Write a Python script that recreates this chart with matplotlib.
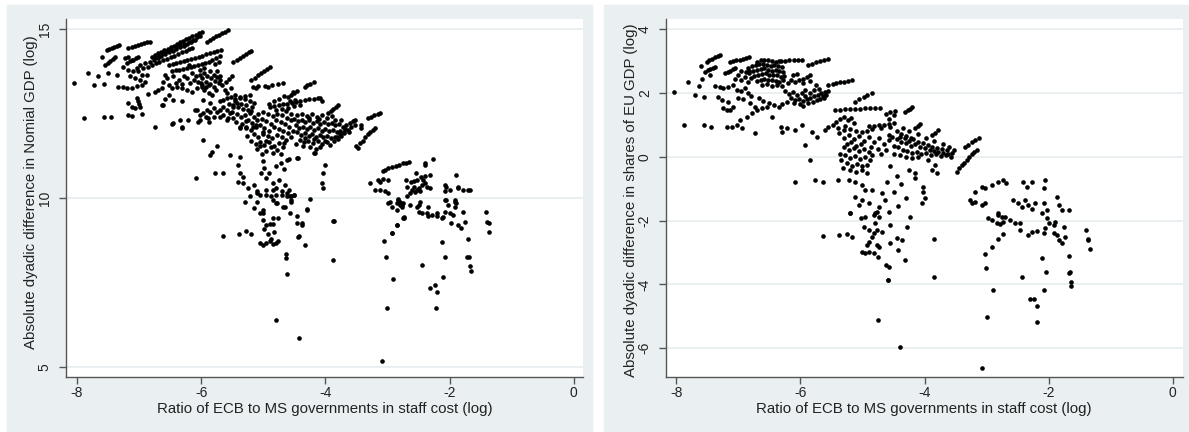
import numpy as np
import matplotlib
matplotlib.use("Agg")
from matplotlib import pyplot as plt
from matplotlib.patches import Rectangle

plt.rcParams['font.family'] = ['Liberation Sans', 'DejaVu Sans']
plt.rcParams['axes.unicode_minus'] = False

# (ratio of ECB to MS staff cost, log ; abs. dyadic difference in nominal GDP, log)
nominal_pts = [
    (-8.04, 13.40), (-7.88, 12.38), (-7.82, 13.70), (-7.72, 13.35), (-7.66, 13.60), (-7.57, 13.37),
    (-7.57, 12.41), (-7.45, 12.41), (-7.60, 14.19), (-7.50, 13.70), (-7.36, 13.65),
    (-7.52, 14.39), (-7.48, 14.42), (-7.44, 14.45), (-7.40, 14.48), (-7.36, 14.51), (-7.32, 14.54),
    (-7.54, 13.94), (-7.50, 14.00), (-7.46, 14.06), (-7.42, 14.12), (-7.38, 14.18),
    (-7.33, 13.30), (-7.25, 13.28), (-7.19, 13.26), (-7.11, 13.25), (-7.03, 13.31), (-6.95, 13.35),
    (-7.22, 14.14), (-7.17, 14.19), (-7.11, 14.09),
    (-7.17, 14.44), (-7.12, 14.47), (-7.07, 14.50), (-7.02, 14.52), (-6.97, 14.55), (-6.92, 14.58),
    (-6.87, 14.61), (-6.82, 14.63),
    (-7.19, 14.00), (-7.14, 14.05), (-7.10, 14.10), (-7.05, 14.15), (-7.01, 14.19),
    (-7.25, 13.89), (-7.17, 13.80), (-7.09, 13.75), (-7.03, 13.84),
    (-7.14, 13.60), (-7.06, 13.55), (-6.98, 13.50), (-6.90, 13.45), (-6.95, 13.65), (-6.87, 13.65),
    (-7.01, 13.75), (-6.93, 13.85), (-6.99, 13.95), (-6.91, 14.00),
    (-7.17, 12.81), (-7.11, 12.71), (-7.06, 12.66), (-7.03, 12.96), (-7.01, 12.88), (-7.00, 12.80),
    (-6.98, 12.71), (-7.17, 12.46), (-7.11, 12.44), (-6.95, 12.48), (-6.74, 12.12),
    (-6.85, 13.08), (-6.74, 13.15), (-6.69, 13.20), (-6.63, 13.25), (-6.63, 12.76),
    (-6.58, 12.92), (-6.52, 13.05), (-6.47, 13.27), (-6.39, 13.30), (-6.31, 13.25), (-6.23, 13.20),
    (-6.15, 13.15), (-6.07, 13.25), (-5.99, 13.30), (-5.88, 13.35),
    (-6.47, 12.19), (-6.34, 12.32), (-6.31, 12.12),
    (-6.10, 12.60), (-6.02, 12.45), (-6.05, 12.25), (-5.92, 12.40), (-5.85, 12.55), (-5.88, 12.25),
    (-6.79, 14.19), (-6.74, 14.24), (-6.69, 14.28), (-6.64, 14.33), (-6.59, 14.37), (-6.54, 14.42),
    (-6.49, 14.47), (-6.44, 14.51), (-6.39, 14.56), (-6.34, 14.61), (-6.29, 14.65), (-6.24, 14.70),
    (-6.19, 14.74), (-6.14, 14.79), (-6.09, 14.84), (-6.04, 14.88), (-5.99, 14.93),
    (-6.82, 14.04), (-6.76, 14.10), (-6.70, 14.15), (-6.64, 14.20), (-6.58, 14.25), (-6.52, 14.31),
    (-6.46, 14.36), (-6.40, 14.41), (-6.34, 14.46), (-6.28, 14.51), (-6.22, 14.56), (-6.16, 14.62),
    (-6.10, 14.67),
    (-6.85, 13.89), (-6.79, 13.94), (-6.73, 13.99), (-6.67, 14.03), (-6.61, 14.08), (-6.55, 14.13),
    (-6.49, 14.18), (-6.43, 14.22), (-6.37, 14.27), (-6.31, 14.31), (-6.25, 14.36), (-6.19, 14.40),
    (-6.14, 14.44),
    (-6.75, 14.17), (-6.68, 14.22), (-6.61, 14.28), (-6.55, 14.34), (-6.48, 14.40), (-6.41, 14.46),
    (-6.34, 14.52), (-6.27, 14.57), (-6.20, 14.63), (-6.13, 14.69), (-6.06, 14.76), (-6.02, 14.80),
    (-6.52, 13.94), (-6.46, 13.97), (-6.40, 14.00), (-6.34, 14.03), (-6.28, 14.06), (-6.22, 14.09),
    (-6.16, 14.12), (-6.10, 14.15), (-6.04, 14.19), (-5.98, 14.22), (-5.92, 14.25), (-5.86, 14.28),
    (-6.47, 13.75), (-6.41, 13.78), (-6.35, 13.80), (-6.29, 13.83), (-6.23, 13.86), (-6.17, 13.89),
    (-6.11, 13.92), (-6.05, 13.95), (-5.99, 13.98), (-5.93, 14.01), (-5.87, 14.04),
    (-5.80, 14.32), (-5.74, 14.35), (-5.68, 14.38), (-5.82, 14.10), (-5.76, 14.15), (-5.70, 14.20),
    (-5.78, 13.98), (-5.72, 14.02),
    (-6.02, 13.80), (-5.96, 13.70), (-5.90, 13.62), (-5.84, 13.55), (-5.78, 13.48), (-5.72, 13.42),
    (-5.98, 13.55), (-5.92, 13.45), (-5.86, 13.38), (-5.80, 13.30), (-6.00, 13.40), (-5.95, 13.20),
    (-5.88, 13.10), (-5.82, 13.05), (-5.76, 13.20), (-5.70, 13.60), (-5.75, 13.75), (-5.95, 13.85),
    (-6.20, 13.95), (-6.14, 13.70), (-6.08, 13.62), (-6.02, 13.65), (-6.12, 13.50), (-6.05, 13.45),
    (-5.98, 13.35), (-5.92, 13.30), (-6.18, 13.40), (-5.85, 13.75), (-5.80, 13.65), (-5.75, 13.58),
    (-5.70, 13.50), (-5.66, 13.35), (-5.60, 13.45), (-5.55, 13.52), (-5.50, 13.60), (-5.62, 13.20),
    (-5.58, 13.10), (-5.52, 13.25),
    (-6.55, 13.55), (-6.45, 13.62), (-6.35, 13.50), (-6.28, 13.60), (-6.40, 13.40), (-6.30, 13.38),
    (-6.22, 13.55), (-6.52, 13.35), (-6.62, 13.45), (-6.58, 13.65),
    (-5.91, 14.63), (-5.86, 14.68), (-5.81, 14.73), (-5.76, 14.79), (-5.71, 14.84), (-5.66, 14.89),
    (-5.61, 14.93), (-5.56, 14.97),
    (-5.48, 14.04), (-5.43, 14.10), (-5.38, 14.15), (-5.33, 14.21), (-5.28, 14.26), (-5.23, 14.31),
    (-5.19, 14.36),
    (-5.19, 13.50), (-5.14, 13.56), (-5.09, 13.63), (-5.04, 13.70), (-4.99, 13.76), (-4.94, 13.82),
    (-4.89, 13.89),
    (-5.16, 13.30), (-5.08, 13.33), (-4.97, 13.32), (-4.86, 13.36), (-4.76, 13.38), (-4.68, 13.40),
    (-5.11, 13.25), (-4.92, 13.28),
    (-4.33, 13.30), (-4.29, 13.34), (-4.24, 13.38), (-4.19, 13.43),
    (-4.60, 13.00), (-4.55, 13.06), (-4.50, 13.11), (-4.46, 13.17), (-4.57, 12.86),
    (-4.89, 12.71), (-4.82, 12.73), (-4.75, 12.76), (-4.68, 12.78), (-4.61, 12.80), (-4.54, 12.83),
    (-4.47, 12.85), (-4.40, 12.87), (-4.33, 12.90), (-4.26, 12.92), (-4.19, 12.94), (-4.12, 12.97),
    (-4.80, 12.62), (-4.70, 12.65), (-4.60, 12.68), (-4.50, 12.72), (-4.40, 12.75),
    (-4.90, 12.78), (-4.82, 12.86), (-4.74, 12.94), (-4.66, 13.02),
    (-5.46, 12.93), (-5.38, 12.97), (-5.30, 13.02), (-5.22, 13.06),
    (-3.95, 12.51), (-3.91, 12.57), (-3.87, 12.63), (-3.83, 12.70), (-3.79, 12.76),
    (-4.52, 13.15), (-4.49, 12.91), (-4.09, 12.96), (-4.06, 12.86),
    (-3.60, 12.22), (-3.56, 12.27), (-3.52, 12.32), (-3.42, 12.17), (-3.42, 12.07),
    (-3.31, 12.37), (-3.26, 12.41), (-3.21, 12.45), (-3.16, 12.48), (-3.12, 12.51),
    (-3.50, 11.53), (-3.44, 11.63), (-3.36, 11.82), (-3.28, 11.97), (-3.20, 12.07),
    (-3.47, 11.48), (-3.40, 11.70), (-3.32, 11.90), (-3.24, 12.02),
    (-3.82, 11.82), (-3.76, 11.89), (-3.70, 11.96), (-3.64, 12.03), (-3.58, 12.10), (-3.52, 12.17),
    (-5.59, 12.95), (-5.52, 13.00), (-5.45, 13.05), (-5.38, 12.98), (-5.30, 12.92), (-5.22, 12.88),
    (-5.15, 12.82), (-5.55, 12.80), (-5.48, 12.75), (-5.40, 12.70), (-5.32, 12.65), (-5.25, 12.60),
    (-5.18, 12.70), (-5.45, 12.88), (-5.35, 12.80), (-5.28, 12.75), (-5.20, 12.58),
    (-5.97, 12.91), (-5.86, 12.81), (-5.91, 12.61), (-5.70, 12.86), (-5.75, 12.56), (-5.64, 12.46),
    (-5.56, 12.36), (-5.27, 12.27), (-5.11, 12.17), (-5.00, 11.97), (-5.38, 12.07),
    (-5.80, 12.41), (-5.70, 12.41), (-5.59, 12.32), (-5.48, 12.37), (-5.38, 12.12), (-5.27, 12.07),
    (-5.16, 12.12), (-6.45, 12.22), (-6.31, 12.07), (-6.21, 12.32),
    (-6.61, 12.76), (-6.45, 12.91), (-6.31, 12.86),
    (-6.07, 12.61), (-5.97, 12.51), (-6.02, 12.32), (-5.89, 12.37), (-5.80, 12.66), (-5.70, 12.61),
    (-5.54, 12.51), (-5.48, 12.71), (-5.43, 12.81), (-5.64, 12.91),
    (-5.65, 12.70), (-5.58, 12.62), (-5.50, 12.55), (-5.42, 12.48), (-5.36, 12.40), (-5.44, 12.25),
    (-5.34, 12.20),
    (-6.08, 10.61), (-5.78, 10.74), (-5.64, 10.74), (-5.97, 11.73), (-5.86, 11.28), (-5.83, 11.36),
    (-5.75, 11.53), (-5.54, 11.28),
    (-5.38, 11.23), (-5.40, 10.98), (-5.38, 10.74), (-5.32, 10.64), (-5.40, 10.49), (-5.32, 10.44),
    (-5.24, 10.30), (-5.21, 10.05),
    (-5.30, 12.45), (-5.22, 12.52), (-5.15, 12.40), (-5.08, 12.48), (-5.00, 12.55), (-4.92, 12.50),
    (-4.85, 12.42), (-4.78, 12.50), (-4.70, 12.45), (-4.62, 12.38), (-4.55, 12.30), (-5.25, 12.30),
    (-5.18, 12.22), (-5.10, 12.30), (-5.02, 12.35), (-4.95, 12.28), (-4.88, 12.20), (-4.80, 12.30),
    (-4.72, 12.25), (-4.65, 12.18), (-4.58, 12.10), (-5.28, 12.10), (-5.20, 12.02), (-5.12, 12.10),
    (-5.05, 12.15), (-4.98, 12.08), (-4.90, 12.00), (-4.82, 12.10), (-4.75, 12.05), (-4.68, 11.98),
    (-4.60, 11.92), (-5.15, 11.90), (-5.08, 11.82), (-5.00, 11.90), (-4.93, 11.85), (-4.86, 11.78),
    (-4.78, 11.88), (-4.70, 11.80), (-4.63, 11.72), (-5.05, 11.65), (-4.98, 11.58), (-4.90, 11.65),
    (-4.82, 11.55), (-4.75, 11.62), (-4.68, 11.50), (-5.10, 11.45), (-4.95, 11.40), (-4.85, 11.35),
    (-4.72, 11.30),
    (-5.26, 11.85), (-5.20, 11.70), (-5.12, 11.60), (-4.96, 11.70), (-4.88, 11.50), (-4.78, 11.42),
    (-4.66, 11.62), (-4.56, 11.80), (-4.52, 12.00), (-4.56, 12.50), (-4.64, 12.58),
    (-5.05, 11.55), (-5.02, 11.30), (-5.00, 11.10), (-4.98, 10.90), (-5.04, 10.75), (-4.95, 10.60),
    (-4.90, 10.75), (-4.85, 10.45), (-4.80, 10.30), (-4.75, 10.55), (-4.70, 10.20), (-4.65, 10.40),
    (-4.62, 10.05), (-4.58, 10.25), (-4.55, 9.90), (-4.50, 10.10), (-4.88, 10.05), (-4.78, 9.85),
    (-4.68, 9.75), (-4.95, 10.25), (-5.10, 10.15), (-5.15, 10.40), (-4.72, 11.05), (-4.80, 10.95),
    (-4.66, 10.85), (-4.58, 11.15), (-4.62, 11.13), (-4.44, 11.18),
    (-4.25, 9.97), (-4.30, 9.67), (-3.87, 9.33), (-4.38, 9.26), (-4.46, 9.46),
    (-5.65, 8.88), (-5.39, 8.94), (-5.27, 9.04), (-5.19, 8.94), (-5.05, 8.67), (-5.00, 8.62),
    (-4.95, 8.67), (-4.89, 8.72), (-4.84, 8.65), (-4.79, 8.67), (-4.76, 8.72), (-5.00, 9.35),
    (-4.95, 9.20), (-4.89, 9.25), (-4.84, 9.40), (-4.84, 9.25), (-4.76, 9.40), (-4.98, 9.10),
    (-4.93, 8.95), (-4.87, 8.80), (-4.82, 9.00), (-5.06, 9.55), (-5.01, 9.65), (-4.46, 9.26),
    (-4.44, 8.86), (-4.64, 8.35), (-4.64, 8.22), (-4.61, 7.76), (-4.79, 6.40), (-4.42, 5.86),
    (-5.30, 9.90), (-5.10, 10.20), (-5.05, 10.10), (-4.95, 10.10), (-4.85, 10.25), (-4.80, 10.10),
    (-4.70, 10.10), (-4.62, 10.15), (-4.55, 9.95), (-4.50, 10.10), (-5.15, 9.70), (-5.10, 9.90),
    (-5.00, 9.55), (-4.85, 9.95), (-4.80, 9.85), (-4.65, 9.75), (-4.55, 10.05),
    (-4.38, 9.21), (-4.42, 8.88), (-4.33, 8.62), (-3.86, 9.33), (-3.87, 8.16), (-3.09, 5.17),
    (-4.45, 11.18), (-4.19, 11.33), (-4.16, 11.33), (-4.01, 10.98), (-4.03, 10.74), (-4.06, 10.44),
    (-4.03, 10.30), (-4.30, 9.65), (-4.57, 10.05), (-4.57, 9.56),
    (-4.50, 12.35), (-4.44, 12.28), (-4.38, 12.32), (-4.32, 12.25), (-4.26, 12.30), (-4.20, 12.22),
    (-4.14, 12.28), (-4.08, 12.20), (-4.02, 12.25), (-3.96, 12.18), (-3.90, 12.22), (-3.84, 12.15),
    (-3.78, 12.20), (-3.72, 12.12), (-3.66, 12.16),
    (-4.48, 12.15), (-4.42, 12.08), (-4.36, 12.12), (-4.30, 12.05), (-4.24, 12.10), (-4.18, 12.02),
    (-4.12, 12.08), (-4.06, 12.00), (-4.00, 12.05), (-3.94, 11.98), (-3.88, 12.02), (-3.82, 11.95),
    (-3.76, 12.00), (-3.70, 11.92),
    (-4.45, 11.95), (-4.39, 11.88), (-4.33, 11.92), (-4.27, 11.85), (-4.21, 11.90), (-4.15, 11.82),
    (-4.09, 11.88), (-4.03, 11.80), (-3.97, 11.85), (-3.91, 11.78), (-3.85, 11.82), (-3.79, 11.75),
    (-4.40, 11.72), (-4.34, 11.65), (-4.28, 11.70), (-4.20, 11.62), (-4.12, 11.68), (-4.05, 11.60),
    (-3.98, 11.65), (-3.92, 11.58), (-4.36, 11.55), (-4.25, 11.50), (-4.15, 11.45), (-4.08, 11.52),
    (-4.46, 12.45), (-4.38, 12.50), (-4.30, 12.42), (-4.22, 12.48), (-4.14, 12.40), (-4.06, 12.45),
    (-3.98, 12.38), (-3.90, 12.42),
    (-4.47, 11.60), (-4.32, 11.78), (-4.18, 11.75), (-4.00, 11.70), (-3.86, 11.68), (-3.74, 11.85),
    (-3.68, 12.05), (-3.62, 11.95), (-4.10, 12.35), (-4.26, 12.38), (-3.85, 12.30), (-3.75, 12.30),
    (-3.28, 10.44), (-3.20, 10.24), (-3.12, 10.24), (-3.04, 10.20), (-2.99, 10.15), (-3.15, 10.54),
    (-3.07, 10.56), (-2.99, 10.54), (-3.07, 10.79), (-3.04, 10.84),
    (-2.99, 10.89), (-2.93, 10.92), (-2.87, 10.96), (-2.81, 10.99), (-2.75, 11.03), (-2.70, 11.05),
    (-2.66, 11.08), (-2.40, 10.98), (-2.40, 11.03), (-2.26, 11.15),
    (-2.93, 9.75), (-2.85, 9.65), (-2.77, 9.80), (-2.69, 10.34), (-2.69, 10.05), (-2.83, 9.99),
    (-2.74, 9.41), (-2.85, 9.21), (-2.93, 8.96),
    (-3.12, 10.49), (-2.99, 9.85), (-2.85, 9.85), (-2.80, 9.90), (-2.77, 9.75), (-2.74, 9.44),
    (-3.06, 8.72), (-3.02, 8.25), (-2.91, 7.60), (-3.00, 6.75),
    (-2.61, 10.24), (-2.53, 10.24), (-2.58, 10.34), (-2.50, 10.29), (-2.45, 10.39), (-2.40, 10.44),
    (-2.37, 10.34), (-2.32, 10.29), (-2.42, 10.54),
    (-2.80, 9.80), (-2.64, 9.80), (-2.53, 9.75), (-2.48, 9.90),
    (-2.45, 9.56), (-2.34, 9.46), (-2.29, 9.51), (-2.21, 9.46), (-2.13, 9.41),
    (-2.07, 10.39), (-2.07, 10.20), (-2.05, 9.95), (-2.02, 9.80), (-2.07, 9.60), (-1.99, 9.56),
    (-1.94, 9.51), (-1.91, 9.90), (-1.91, 9.75),
    (-1.86, 10.34), (-1.70, 10.24),
    (-1.97, 9.26), (-1.86, 9.21), (-1.81, 9.11), (-1.75, 9.31), (-1.78, 9.60),
    (-2.13, 8.70), (-2.07, 8.25), (-2.45, 8.03), (-2.10, 7.66), (-2.32, 7.33), (-2.24, 7.43),
    (-2.21, 7.24), (-1.70, 8.79), (-1.72, 8.25), (-1.69, 8.26), (-1.67, 7.98), (-1.66, 7.86),
    (-2.22, 6.74), (-1.41, 9.60), (-1.39, 9.31), (-1.36, 9.26), (-1.36, 9.01),
    (-2.93, 8.98), (-2.84, 9.22), (-2.75, 9.41),
    (-2.05, 10.34), (-1.99, 10.25), (-1.89, 10.69), (-1.86, 10.30), (-1.78, 10.25), (-1.67, 10.25),
    (-2.07, 9.95), (-1.91, 9.95), (-1.89, 9.85),
    (-2.96, 9.90), (-2.83, 9.95), (-2.75, 9.85), (-2.50, 9.80), (-2.50, 9.60), (-2.37, 9.55),
    (-2.34, 9.75), (-2.21, 9.55), (-2.10, 9.45),
    (-2.70, 10.55), (-2.62, 10.48), (-2.57, 10.50), (-2.52, 10.55), (-2.46, 10.62), (-2.40, 10.66),
    (-2.32, 10.70), (-2.54, 10.74), (-2.56, 10.17), (-2.64, 10.15), (-2.48, 10.20),
]

# (ratio of ECB to MS staff cost, log ; abs. dyadic difference in shares of EU GDP, log)
share_pts = [
    (-8.03, 2.04), (-7.87, 1.00), (-7.81, 2.36), (-7.70, 1.94), (-7.56, 1.89), (-7.64, 2.22),
    (-7.56, 1.00), (-7.44, 0.95), (-7.60, 2.85), (-7.58, 2.44),
    (-7.51, 2.98), (-7.47, 3.03), (-7.42, 3.08), (-7.37, 3.12), (-7.33, 3.16), (-7.29, 3.19),
    (-7.53, 2.67), (-7.49, 2.71), (-7.45, 2.75), (-7.41, 2.79), (-7.37, 2.83),
    (-7.45, 2.57), (-7.37, 2.22), (-7.29, 2.20),
    (-7.32, 1.89), (-7.26, 1.78), (-7.24, 1.52), (-7.18, 1.47), (-7.13, 1.47), (-7.08, 1.57),
    (-7.16, 1.73), (-7.18, 0.95), (-7.10, 0.95), (-7.02, 1.00), (-6.97, 1.16), (-6.94, 0.90),
    (-7.13, 2.98), (-7.08, 3.00), (-7.03, 3.03), (-6.98, 3.05), (-6.93, 3.08), (-6.88, 3.10),
    (-6.83, 3.13),
    (-7.21, 2.62), (-7.17, 2.66), (-7.13, 2.70), (-7.09, 2.74), (-7.05, 2.78),
    (-7.24, 2.15), (-7.16, 2.20), (-7.08, 2.25),
    (-7.05, 2.45), (-7.00, 2.55), (-6.95, 2.40), (-6.90, 2.50), (-6.85, 2.35), (-7.02, 2.10),
    (-6.96, 2.05), (-6.90, 2.15), (-6.84, 2.00), (-6.80, 1.90), (-7.00, 1.85), (-6.92, 1.80),
    (-6.88, 2.65), (-6.82, 2.70), (-6.95, 2.70),
    (-6.73, 0.74), (-6.86, 1.26), (-6.78, 1.37), (-6.70, 1.47), (-6.62, 1.52), (-6.54, 1.57),
    (-6.81, 1.68), (-6.67, 1.84), (-6.73, 1.57),
    (-6.70, 2.98), (-6.64, 3.02), (-6.58, 3.05), (-6.52, 3.03), (-6.46, 3.00), (-6.40, 2.98),
    (-6.34, 3.01),
    (-6.85, 2.80), (-6.78, 2.85), (-6.72, 2.88), (-6.66, 2.90), (-6.60, 2.92), (-6.54, 2.88),
    (-6.48, 2.85), (-6.42, 2.88), (-6.36, 2.85), (-6.30, 2.82),
    (-6.82, 2.62), (-6.76, 2.68), (-6.70, 2.72), (-6.64, 2.75), (-6.58, 2.78), (-6.52, 2.72),
    (-6.46, 2.70), (-6.40, 2.72), (-6.34, 2.68), (-6.28, 2.65),
    (-6.80, 2.48), (-6.74, 2.52), (-6.68, 2.58), (-6.62, 2.60), (-6.56, 2.62), (-6.50, 2.58),
    (-6.44, 2.55), (-6.38, 2.55), (-6.32, 2.50), (-6.26, 2.52),
    (-6.70, 2.38), (-6.64, 2.42), (-6.58, 2.45), (-6.52, 2.42), (-6.46, 2.40), (-6.40, 2.38),
    (-6.34, 2.36), (-6.28, 2.40),
    (-6.62, 2.25), (-6.54, 2.28), (-6.46, 2.22), (-6.38, 2.25), (-6.30, 2.22),
    (-6.32, 3.00), (-6.25, 3.01), (-6.18, 3.02), (-6.11, 3.03), (-6.04, 3.04), (-5.97, 3.05),
    (-5.87, 2.88), (-5.81, 2.92), (-5.75, 2.96), (-5.69, 3.00), (-5.62, 3.04), (-5.55, 3.08),
    (-6.46, 1.26), (-6.32, 0.95), (-6.30, 0.79), (-6.22, 0.90),
    (-6.08, -0.78), (-5.76, -0.73), (-5.63, -0.78), (-5.92, 0.37), (-5.84, -0.10),
    (-6.25, 2.05), (-6.18, 1.98), (-6.12, 2.02), (-6.05, 1.95), (-5.98, 2.00), (-5.92, 1.92),
    (-6.15, 1.85), (-6.08, 1.78), (-6.02, 1.82), (-5.96, 1.75), (-5.90, 1.80), (-5.84, 1.85),
    (-5.78, 1.90), (-5.72, 1.95), (-5.66, 2.00), (-5.60, 2.02), (-5.55, 2.05), (-5.88, 1.70),
    (-5.80, 1.72), (-5.74, 1.78), (-5.68, 1.82), (-5.62, 1.85), (-6.00, 1.65), (-5.95, 1.58),
    (-6.30, 1.65), (-6.22, 1.72), (-6.10, 1.68), (-5.92, 2.10), (-5.85, 2.00), (-5.78, 2.08),
    (-5.70, 2.12), (-5.64, 1.92), (-5.58, 1.95), (-6.20, 2.30), (-6.15, 2.42), (-5.95, 2.30),
    (-5.85, 2.38), (-5.75, 2.25),
    (-6.08, 2.33), (-6.02, 2.40), (-5.96, 2.45), (-5.90, 2.50), (-5.84, 2.55), (-6.12, 2.55),
    (-6.05, 2.60),
    (-5.55, 2.25), (-5.48, 2.28), (-5.42, 2.31), (-5.36, 2.34), (-5.29, 2.36), (-5.23, 2.39),
    (-5.17, 2.41),
    (-5.44, 1.47), (-5.36, 1.48), (-5.28, 1.50), (-5.20, 1.50), (-5.12, 1.51), (-5.04, 1.50),
    (-4.96, 1.52), (-4.88, 1.52), (-4.80, 1.53), (-4.72, 1.53),
    (-5.12, 1.73), (-5.05, 1.80), (-4.98, 1.86), (-4.92, 1.93), (-4.85, 1.99),
    (-5.48, 1.00), (-5.42, 1.10), (-5.36, 1.20), (-5.30, 1.25), (-5.24, 1.15), (-5.18, 1.22),
    (-5.14, 1.05), (-5.28, 0.98), (-5.40, 0.90),
    (-5.38, 0.75), (-5.30, 0.60), (-5.22, 0.70), (-5.14, 0.55), (-5.06, 0.65), (-4.98, 0.50),
    (-4.90, 0.62), (-4.82, 0.45), (-4.74, 0.58), (-4.66, 0.40), (-4.58, 0.52), (-4.50, 0.35),
    (-5.25, 0.40), (-5.10, 0.35),
    (-5.30, 0.85), (-5.20, 0.88), (-5.10, 0.80), (-5.00, 0.78), (-4.92, 0.80), (-5.18, 0.45),
    (-5.02, 0.40), (-4.86, 0.30), (-4.75, 0.25), (-4.62, 0.20), (-4.70, 0.10), (-5.36, 0.10),
    (-5.34, -0.10), (-4.85, 0.05),
    (-4.90, 0.97), (-4.82, 0.98), (-4.74, 1.00), (-4.66, 1.01), (-4.58, 1.03), (-4.50, 1.05),
    (-4.85, 0.88), (-4.70, 0.90), (-4.55, 0.92),
    (-5.30, 0.30), (-5.22, 0.20), (-5.14, 0.28), (-5.06, 0.18), (-4.98, 0.25), (-4.90, 0.15),
    (-5.28, 0.05), (-5.20, -0.05), (-5.12, 0.02), (-5.04, -0.08), (-4.96, 0.00), (-4.88, -0.10),
    (-5.25, -0.20), (-5.17, -0.28), (-5.09, -0.22), (-5.01, -0.30), (-4.93, -0.25), (-5.20, -0.42),
    (-5.10, -0.48), (-5.00, -0.40), (-4.92, -0.50), (-5.32, -0.35),
    (-5.39, -0.73), (-5.22, -0.73), (-5.12, -0.78), (-5.01, -0.88), (-4.96, -1.04),
    (-5.12, -1.25), (-5.01, -1.35), (-4.90, -1.46), (-4.74, -1.56), (-4.63, -1.35), (-4.85, -1.04),
    (-4.69, -1.14), (-5.20, -1.77), (-5.06, -1.51), (-4.80, -1.77),
    (-5.81, 0.79), (-5.73, 0.63), (-5.60, 0.84), (-5.55, 0.95), (-5.97, 0.99), (-6.08, 0.84),
    (-6.60, 1.75), (-6.50, 1.70), (-6.42, 1.62), (-6.35, 1.55),
    (-4.31, 1.42), (-4.27, 1.46), (-4.23, 1.51), (-4.20, 1.55),
    (-4.62, 1.35), (-4.56, 1.40), (-4.50, 1.30), (-4.58, 1.20), (-4.48, 1.45),
    (-4.15, 0.90), (-4.11, 0.96), (-4.07, 1.03), (-3.88, 0.69), (-3.83, 0.76), (-3.78, 0.84),
    (-3.35, 0.32), (-3.30, 0.38), (-3.24, 0.45), (-3.18, 0.52), (-3.13, 0.58),
    (-3.48, -0.46), (-3.44, -0.36), (-3.40, -0.27), (-3.36, -0.18), (-3.32, -0.09), (-3.28, 0.00),
    (-3.24, 0.08), (-3.20, 0.15), (-3.16, 0.22),
    (-4.45, 0.80), (-4.38, 0.72), (-4.30, 0.65), (-4.22, 0.58), (-4.45, 0.55), (-4.38, 0.48),
    (-4.30, 0.42), (-4.22, 0.35), (-4.15, 0.40), (-4.08, 0.32), (-4.00, 0.28), (-3.92, 0.22),
    (-3.85, 0.18), (-3.78, 0.15), (-3.70, 0.12), (-3.62, 0.10), (-3.55, 0.12),
    (-4.42, 0.30), (-4.35, 0.22), (-4.28, 0.18), (-4.20, 0.12), (-4.12, 0.15), (-4.05, 0.08),
    (-3.98, 0.12), (-3.90, 0.05), (-3.82, 0.08), (-3.74, 0.02), (-3.66, 0.05), (-3.58, 0.00),
    (-4.40, 0.62), (-4.32, 0.58), (-4.25, 0.50), (-4.18, 0.55), (-4.10, 0.48), (-4.02, 0.42),
    (-3.95, 0.38), (-3.88, 0.32), (-3.80, 0.28), (-3.72, 0.25), (-3.64, 0.20),
    (-4.58, 0.70), (-4.52, 0.62), (-4.35, 0.90), (-4.25, 0.80), (-4.10, 0.72), (-3.98, 0.60),
    (-3.85, 0.50), (-3.70, 0.40), (-3.60, 0.30), (-3.52, 0.20),
    (-4.50, 0.10), (-4.40, 0.05), (-4.30, 0.00), (-4.20, -0.05), (-4.10, -0.02),
    (-3.94, -0.10), (-3.83, -0.25), (-3.80, -0.52), (-3.88, -0.41), (-4.15, -0.52), (-4.15, -0.67),
    (-4.02, -0.93), (-4.02, -1.09), (-3.99, -1.30), (-4.04, -1.46),
    (-4.45, -0.60), (-4.38, -0.85), (-4.50, -1.10), (-4.30, -1.30), (-4.42, -1.55), (-4.25, -0.40),
    (-4.55, -0.30), (-4.60, -0.80),
    (-3.27, -1.35), (-3.24, -1.46), (-3.19, -1.40), (-3.08, -1.51), (-3.02, -1.46), (-3.19, -1.09),
    (-3.08, -0.93), (-3.02, -0.99), (-2.92, -0.88), (-2.81, -0.78), (-2.73, -0.72), (-2.68, -0.83),
    (-2.41, -0.78), (-2.35, -0.93), (-2.27, -0.78), (-2.06, -0.73), (-2.08, -0.99),
    (-2.57, -1.35), (-2.49, -1.46), (-2.43, -1.56), (-2.38, -1.35), (-2.33, -1.51), (-2.27, -1.62),
    (-2.22, -1.46),
    (-1.87, -1.25), (-1.84, -1.51), (-1.79, -1.67), (-1.68, -1.67),
    (-2.08, -1.46), (-2.03, -1.67), (-2.11, -1.77), (-2.81, -1.77), (-2.70, -1.87),
    (-4.55, -2.13), (-4.45, -2.55), (-4.37, -2.61), (-4.29, -2.19), (-4.23, -1.87), (-4.42, -2.92),
    (-4.31, -3.23), (-4.58, -3.44), (-4.59, -3.86),
    (-3.84, -2.58), (-3.85, -3.75), (-4.39, -5.95), (-3.08, -6.61),
    (-3.03, -3.04), (-3.01, -3.49), (-3.00, -5.03), (-2.89, -4.17),
    (-2.92, -2.81), (-2.81, -2.58), (-2.74, -2.42), (-2.84, -2.08), (-2.78, -2.10), (-2.73, -2.03),
    (-2.62, -1.98), (-2.54, -2.06), (-2.46, -2.08), (-2.46, -2.29), (-2.97, -1.93), (-2.92, -1.98),
    (-2.81, -1.82), (-2.76, -1.87),
    (-2.43, -3.76), (-2.30, -4.47), (-2.23, -4.44), (-2.19, -4.66), (-2.19, -5.17), (-2.10, -3.18),
    (-2.04, -3.60), (-2.07, -4.17),
    (-2.33, -2.45), (-2.27, -2.34), (-2.19, -2.31), (-2.08, -2.40), (-2.06, -2.24), (-2.03, -1.93),
    (-2.00, -2.08), (-1.92, -2.14), (-1.92, -2.40), (-1.87, -2.45), (-1.84, -2.61), (-1.79, -2.71),
    (-1.74, -2.50), (-1.76, -2.19), (-1.90, -2.03),
    (-1.67, -3.11), (-1.68, -3.65), (-1.66, -3.60), (-1.64, -3.91), (-1.64, -4.05),
    (-1.40, -2.29), (-1.36, -2.61), (-1.33, -2.90), (-1.37, -2.58),
    (-5.64, -2.48), (-5.37, -2.45), (-5.25, -2.42), (-5.17, -2.50),
    (-5.20, -1.77), (-5.02, -1.93), (-4.96, -1.87), (-4.82, -1.82), (-4.77, -1.72), (-4.74, -1.87),
    (-4.58, -1.72),
    (-4.98, -2.19), (-4.90, -2.29), (-4.82, -2.40), (-4.77, -2.29), (-4.69, -2.34), (-4.80, -2.08),
    (-4.85, -2.50), (-4.90, -2.66), (-4.93, -2.76), (-5.01, -2.97), (-4.96, -3.02), (-4.90, -2.97),
    (-4.82, -3.02), (-4.77, -2.76), (-4.74, -2.81),
    (-4.75, -3.13), (-4.62, -3.39), (-4.59, -3.86), (-4.75, -5.11), (-4.55, -2.71),
]

x_ticks = [-8, -6, -4, -2, 0]
yticks_nominal = [5, 10, 15]
yticks_share = [-6, -4, -2, 0, 2, 4]
x_title = "Ratio of ECB to MS governments in staff cost (log)"
y_title_nominal = "Absolute dyadic difference in Nomial GDP (log)"
y_title_share = "Absolute dyadic difference in shares of EU GDP (log)"

W, H = 1189, 432
bg = '#EAF0F2'
axis_col = '#555555'

fig = plt.figure(figsize=(W / 100, H / 100), dpi=100)
fig.patch.set_facecolor('white')
# outer (graph region) backgrounds, one per panel
fig.patches.append(Rectangle((7 / W, 0), (592 - 7) / W, (H - 5) / H,
                             transform=fig.transFigure, color=bg, zorder=-10))
fig.patches.append(Rectangle((604 / W, 0), (W - 604) / W, (H - 5) / H,
                             transform=fig.transFigure, color=bg, zorder=-10))


def panel(left_px, right_px, pts, yticks, ylim, xlim):
    ax = fig.add_axes([left_px / W, 1 - 376.7 / H, (right_px - left_px) / W, (376.7 - 19) / H])
    ax.set_zorder(1)
    ax.set_facecolor('white')
    p = np.array(pts)
    ax.scatter(p[:, 0], p[:, 1], s=11, c='black', linewidths=0, zorder=3)
    ax.set_xlim(*xlim)
    ax.set_ylim(*ylim)
    ax.set_xticks(x_ticks)
    ax.set_yticks(yticks)
    ax.set_yticklabels([str(t) for t in yticks], rotation=90, va='center')
    for t in yticks:
        ax.axhline(t, color='#E6EEF0', lw=1.2, zorder=1)
    for s in ['top', 'right']:
        ax.spines[s].set_visible(False)
    for s in ['left', 'bottom']:
        ax.spines[s].set_color(axis_col)
        ax.spines[s].set_linewidth(1.0)
    ax.tick_params(axis='both', direction='out', length=5, width=1, color=axis_col,
                   labelsize=10, labelcolor='#222222')
    ax.tick_params(axis='x', pad=2)
    ax.tick_params(axis='y', pad=5)
    return ax


ax1 = panel(65.7, 583, nominal_pts, yticks_nominal, (4.72, 15.30), (-8.18, 0.148))
ax2 = panel(665.7, 1183, share_pts, yticks_share, (-6.89, 4.32), (-8.17, 0.164))

fs_title = 10.8
fig.text(324.5 / W, 1 - 409 / H, x_title, ha='center', va='center', fontsize=fs_title, color='#222222')
fig.text(923.5 / W, 1 - 409 / H, x_title, ha='center', va='center', fontsize=fs_title, color='#222222')
fig.text(31 / W, 1 - 192.5 / H, y_title_nominal, ha='center', va='center', rotation=90,
         fontsize=fs_title, color='#222222')
fig.text(631 / W, 1 - 200.5 / H, y_title_share, ha='center', va='center', rotation=90,
         fontsize=fs_title, color='#222222')

fig.savefig('out.png', dpi=100, facecolor=fig.get_facecolor())
